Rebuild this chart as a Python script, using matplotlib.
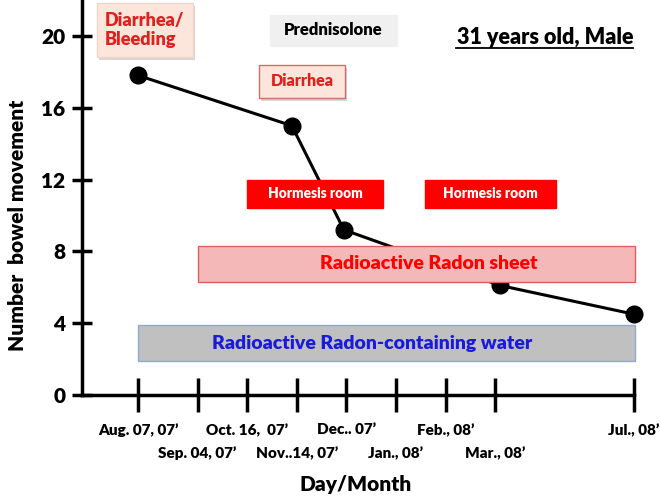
import matplotlib
matplotlib.use("Agg")
import matplotlib.pyplot as plt
from matplotlib.patches import Rectangle

W = 'heavy'
plt.rcParams['font.family'] = ['Lato', 'DejaVu Sans']
plt.rcParams['font.weight'] = W

# Data
tick_labels = ["Aug. 07, 07\u2019", "Sep. 04, 07\u2019", "Oct. 16,  07\u2019", "Nov..14, 07\u2019",
               "Dec.. 07\u2019", "Jan., 08\u2019", "Feb., 08\u2019", "Mar., 08\u2019", "Jul., 08\u2019"]
tick_pos = [0, 1.2, 2.2, 3.2, 4.2, 5.2, 6.2, 7.2, 10.0]
point_x = [0, 3.1, 4.15, 7.3, 10.0]
point_y = [17.8, 15.0, 9.2, 6.1, 4.5]
y_ticks = [0, 4, 8, 12, 16, 20]

fig = plt.figure(figsize=(6.6, 5.0), dpi=100)
ax = fig.add_axes([82/660, 105/500, (634-82)/660, 395/500])
ax.set_xlim(-1.13, 10)
ax.set_ylim(0, 22)

for s in ['top', 'right']:
    ax.spines[s].set_visible(False)
for s in ['left', 'bottom']:
    ax.spines[s].set_linewidth(2.5)
    ax.spines[s].set_color('black')

ax.set_yticks(y_ticks)
ax.set_yticklabels([str(v) for v in y_ticks], fontsize=15, fontweight=W)
ax.tick_params(axis='y', direction='inout', length=14, width=2.5, pad=5)

ax.set_xticks(tick_pos)
ax.set_xticklabels([])
ax.tick_params(axis='x', direction='inout', length=24, width=2.5)
for i, (p, lab) in enumerate(zip(tick_pos, tick_labels)):
    yoff = -35 if (i % 2 == 0 or i == len(tick_pos) - 1) else -58
    ax.annotate(lab, xy=(p, 0), xycoords='data', xytext=(0, yoff), textcoords='offset pixels',
                ha='center', va='center', fontsize=11, fontweight=W, annotation_clip=False)

ax.plot(point_x, point_y, color='black', lw=2.2, marker='o', ms=12, zorder=2, clip_on=False)

def box(x0, x1, y0, y1, fc, ec, txt, tc, fs, lw=1.0, shadow=False, ls=1.0, dx=0.0, align='center'):
    if shadow:
        ax.add_patch(Rectangle((x0 + 0.04, y0 - 0.15), x1 - x0, y1 - y0, facecolor='#bbbbbb',
                               edgecolor='none', zorder=3, clip_on=False, alpha=0.6))
    ax.add_patch(Rectangle((x0, y0), x1 - x0, y1 - y0, facecolor=fc, edgecolor=ec, lw=lw,
                           zorder=4, clip_on=False))
    ax.text((x0 + x1) / 2 + dx, (y0 + y1) / 2, txt, ha='center', va='center', color=tc,
            fontsize=fs, fontweight=W, zorder=5, linespacing=ls, multialignment=align)

box(-0.83, 1.11, 18.83, 21.84, '#fce6dc', '#f0d5cc', "Diarrhea/\nBleeding", '#e0201e', 13,
    shadow=True, ls=1.15, align='left')
box(2.66, 5.22, 19.44, 21.17, '#f0f0f0', '#f0f0f0', "Prednisolone", 'black', 12)
box(2.44, 4.17, 16.55, 18.38, '#fce6dc', '#c8706a', "Diarrhea", '#e0201e', 11.5, shadow=True)
box(2.20, 4.94, 10.42, 11.98, '#ff0000', '#ff0000', "Hormesis room", 'white', 9.8)
box(5.79, 8.43, 10.42, 11.98, '#ff0000', '#ff0000', "Hormesis room", 'white', 9.8)
box(1.21, 10.02, 6.30, 8.30, '#f4b8b8', '#e06060', "Radioactive Radon sheet", '#ff0000', 14, dx=0.25)
box(0.0, 10.02, 1.89, 3.90, '#c0c0c0', '#8eaad0', "Radioactive Radon-containing water", '#1a1adc', 14, dx=-0.3)

fig.text(545/660, 1 - 38/500, "31 years old, Male", ha='center', va='center', fontsize=15.5,
         fontweight=W, color='black')
fig.add_artist(plt.Line2D([456/660, 633/660], [1 - 48/500, 1 - 48/500], color='black', lw=1.3))

fig.text(18/660, 1 - 225/500, "Number  bowel movement", rotation=90, ha='center', va='center',
         fontsize=15, fontweight=W)
fig.text(356/660, 1 - 485/500, "Day/Month", ha='center', va='center', fontsize=15, fontweight=W)

fig.savefig("out.png", dpi=100)
